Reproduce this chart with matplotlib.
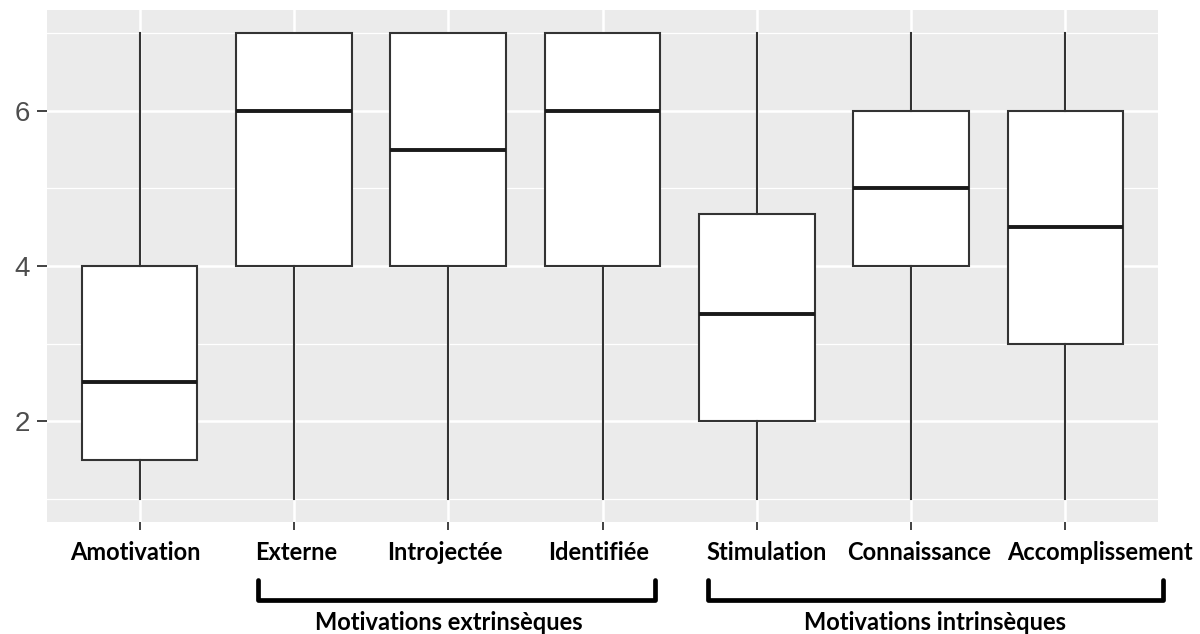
import matplotlib
matplotlib.use("Agg")
import matplotlib.pyplot as plt
from matplotlib.lines import Line2D
from matplotlib.transforms import ScaledTranslation

categories = ["Amotivation", "Externe", "Introjectée", "Identifiée",
              "Stimulation", "Connaissance", "Accomplissement"]
whislo = [1, 1, 1, 1, 1, 1, 1]
q1 = [1.5, 4, 4, 4, 2, 4, 3]
med = [2.5, 6, 5.5, 6, 3.375, 5, 4.5]
q3 = [4, 7, 7, 7, 4.67, 6, 6]
whishi = [7, 7, 7, 7, 7, 7, 7]
groups = ["Motivations extrinsèques", "Motivations intrinsèques"]

W, H = 1200, 634
fig = plt.figure(figsize=(W / 100, H / 100), dpi=100)
L, R, T, B = 47, 1158, 10, 522
ax = fig.add_axes([L / W, (H - B) / H, (R - L) / W, (B - T) / H])
ax.set_facecolor("#EBEBEB")

stats = []
for i, c in enumerate(categories):
    stats.append(dict(label=c, whislo=whislo[i], q1=q1[i], med=med[i],
                      q3=q3[i], whishi=whishi[i], fliers=[]))

ax.bxp(stats, positions=range(1, len(categories) + 1), widths=0.75,
       patch_artist=True, showcaps=False, showfliers=False,
       boxprops=dict(facecolor="white", edgecolor="#333333", linewidth=1.5),
       whiskerprops=dict(color="#333333", linewidth=1.5),
       medianprops=dict(color="#1a1a1a", linewidth=2.8), zorder=3)

ax.set_xlim(0.4, 7.6)
ax.set_ylim(0.7, 7.3)
ax.set_yticks([2, 4, 6])
ax.set_yticks([1, 3, 5, 7], minor=True)
ax.set_yticklabels(["2", "4", "6"], fontfamily="Liberation Sans", fontsize=20)
ax.set_xticks(range(1, len(categories) + 1))
ax.set_xticklabels(categories, fontfamily="Lato", fontweight="bold",
                   fontsize=17, color="black")
ax.tick_params(axis="y", which="major", labelcolor="#4D4D4D",
               color="#333333", length=7, width=1.3, pad=5)
ax.tick_params(axis="y", which="minor", length=0)
ax.tick_params(axis="x", color="#333333", length=5.5, width=1.3, pad=8)
ax.grid(which="major", color="white", linewidth=1.8, zorder=0)
ax.grid(which="minor", axis="y", color="white", linewidth=0.9, zorder=0)
ax.set_axisbelow(True)
for s in ax.spines.values():
    s.set_visible(False)

# manual horizontal nudges of the category labels (pixels), as in the reference
nudges = [-4, 2, -3, -4, 10, 8, 35]
for lab, dx in zip(ax.get_xticklabels(), nudges):
    lab.set_transform(lab.get_transform() +
                      ScaledTranslation(dx / 100, 0, fig.dpi_scale_trans))

def px(x, y):
    return x / W, 1 - y / H

brackets = [(258, 655, 449), (708, 1163, 935)]
for (x0, x1, xc), g in zip(brackets, groups):
    xs = [x0, x0, x1, x1]
    ys = [580, 600, 600, 580]
    fig.add_artist(Line2D([x / W for x in xs], [1 - y / H for y in ys],
                          color="black", linewidth=3.4,
                          solid_joinstyle="round", solid_capstyle="round"))
    fx, fy = px(xc, 622)
    fig.text(fx, fy, g, ha="center", va="center", fontfamily="Lato",
             fontweight="bold", fontsize=17, color="black")

fig.savefig("out.png", dpi=100)
